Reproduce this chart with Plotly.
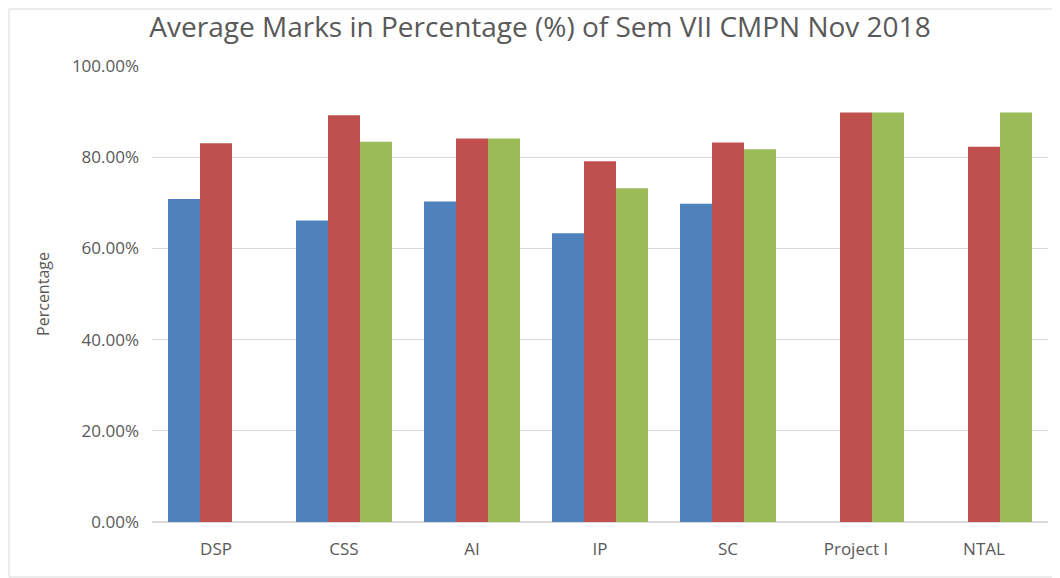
import plotly.graph_objects as go

categories = ["DSP", "CSS", "AI", "IP", "SC", "Project I", "NTAL"]
series1 = [0.7085, 0.661, 0.703, 0.633, 0.698, None, None]
series2 = [0.8306, 0.892, 0.841, 0.791, 0.832, 0.898, 0.823]
series3 = [None, 0.834, 0.841, 0.732, 0.8175, 0.898, 0.898]
colors = ["#4F81BD", "#C0504D", "#9BBB59"]

W, H = 1052, 570
L, R, T, B = 144, 12, 58, 56
pw, ph = W - L - R, H - T - B

fig = go.Figure()
for vals, c, name in zip([series1, series2, series3], colors, ["Series1", "Series2", "Series3"]):
    fig.add_trace(go.Bar(x=categories, y=vals, name=name, marker=dict(color=c, line=dict(width=0))))

fig.update_layout(
    width=W, height=H,
    barmode="group", bargap=0.25, bargroupgap=0,
    showlegend=False,
    paper_bgcolor="white", plot_bgcolor="white",
    margin=dict(l=L, r=R, t=T, b=B),
    title=dict(text="Average Marks in Percentage (%) of Sem VII CMPN Nov 2018",
               x=532 / W, xanchor="center", y=1 - 19 / H, yanchor="middle",
               font=dict(family="Open Sans", size=28, color="#595959")),
    font=dict(family="Open Sans", size=17, color="#595959"),
    shapes=[dict(type="rect", xref="paper", yref="paper",
                 x0=-(L - 1) / pw, x1=1 + (R - 1) / pw,
                 y0=-(B - 1) / ph, y1=1 + (T - 1) / ph,
                 line=dict(color="#D9D9D9", width=1))],
)
fig.update_yaxes(range=[0, 1], dtick=0.2, tickformat=".2%", gridcolor="#D9D9D9",
                 showline=False, zeroline=True, zerolinecolor="#D9D9D9", ticks="",
                 ticklabelstandoff=12, tickfont=dict(size=17),
                 title=dict(text="Percentage", standoff=18, font=dict(size=16, color="#595959")))
fig.update_xaxes(showline=True, linecolor="#D9D9D9", ticks="", tickfont=dict(size=17),
                 ticklabelstandoff=12)

fig.write_html("out.html")
